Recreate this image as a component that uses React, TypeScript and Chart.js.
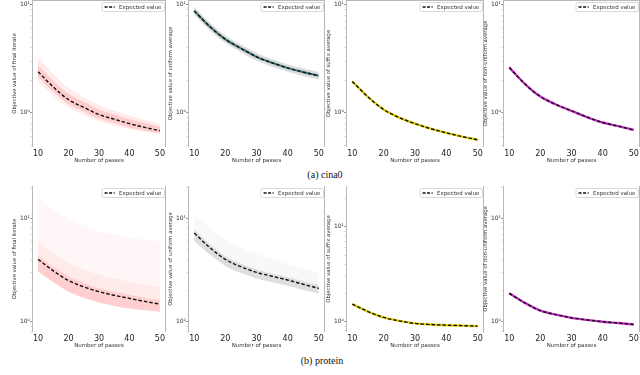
import React, { useEffect, useRef } from 'react';
import { Chart, registerables } from 'chart.js';
Chart.register(...registerables);

const FONT = '"DejaVu Sans", sans-serif';

// Number of passes
const passes = [10, 15, 20, 25, 30, 35, 40, 45, 50];
const xTickValues = [10, 20, 30, 40, 50];
const yTickValues = [0.4, 0.5, 0.6, 0.7, 0.8, 0.9, 1, 2, 3, 4, 5, 6, 7, 8, 9, 10, 20];

// (a) cina0
const cinaFinalMean = [2.4, 1.73, 1.32, 1.12, 0.96, 0.87, 0.79, 0.73, 0.68];
const cinaFinalOuterHi = [3.3, 2.3, 1.7, 1.4, 1.18, 1.05, 0.94, 0.86, 0.79];
const cinaFinalOuterLo = [1.95, 1.43, 1.11, 0.95, 0.83, 0.76, 0.7, 0.66, 0.63];
const cinaFinalInnerHi = [2.75, 1.97, 1.5, 1.26, 1.07, 0.96, 0.87, 0.8, 0.74];
const cinaFinalInnerLo = [2.15, 1.56, 1.2, 1.02, 0.88, 0.8, 0.73, 0.68, 0.645];

const cinaUniformMean = [8.8, 6.3, 4.8, 3.95, 3.3, 2.9, 2.6, 2.38, 2.2];
const cinaUniformHi = [9.6, 6.85, 5.2, 4.28, 3.58, 3.14, 2.82, 2.58, 2.38];
const cinaUniformLo = [8.1, 5.8, 4.42, 3.64, 3.04, 2.67, 2.4, 2.19, 2.03];

const cinaSuffixMean = [1.95, 1.4, 1.07, 0.9, 0.79, 0.71, 0.65, 0.6, 0.56];
const cinaNonUniformMean = [2.63, 1.85, 1.41, 1.19, 1.04, 0.91, 0.81, 0.75, 0.69];

// (b) protein
const protFinalMean = [4.0, 3.1, 2.5, 2.17, 1.95, 1.8, 1.68, 1.57, 1.48];
const protFinalFaintHi = [16, 12, 10, 8.5, 7.5, 7, 6.5, 6.2, 6];
const protFinalMidHi = [6, 4.6, 3.7, 3.2, 2.85, 2.6, 2.45, 2.3, 2.15];
const protFinalDenseHi = [4.4, 3.4, 2.75, 2.37, 2.12, 1.95, 1.82, 1.7, 1.62];
const protFinalDenseLo = [3.05, 2.4, 1.95, 1.7, 1.53, 1.42, 1.34, 1.29, 1.25];

const protUniformMean = [7.2, 5.2, 4.0, 3.4, 3.0, 2.75, 2.53, 2.3, 2.1];
const protUniformFaintHi = [11, 8, 6.2, 5.2, 4.5, 4.0, 3.6, 3.3, 3.0];
const protUniformDenseHi = [7.8, 5.6, 4.3, 3.65, 3.2, 2.93, 2.7, 2.46, 2.26];
const protUniformDenseLo = [6.0, 4.45, 3.45, 2.95, 2.62, 2.4, 2.22, 2.03, 1.88];

const protSuffixMean = [1.53, 1.28, 1.11, 1.02, 0.96, 0.935, 0.92, 0.91, 0.9];
const protNonUniformMean = [1.88, 1.52, 1.28, 1.17, 1.09, 1.04, 1.0, 0.97, 0.94];

type Band = { hi: number[]; lo: number[]; color: string };
type PanelDef = {
  left: number; top: number; right: number; bottom: number;
  yMin: number; yMax: number; yTitle: string;
  mean: number[]; bands: Band[]; runColor?: string; runWidth?: number; topSpine?: boolean;
};

const RED = (a: number) => `rgba(255,40,40,${a})`;
const GRAY = (a: number) => `rgba(120,120,120,${a})`;

const panels: PanelDef[] = [
  { left: 32, top: 0, right: 166, bottom: 147, yMin: 0.48, yMax: 11.1, yTitle: 'Objective value of final iterate',
    mean: cinaFinalMean, topSpine: true,
    bands: [
      { hi: cinaFinalOuterHi, lo: cinaFinalOuterLo, color: RED(0.09) },
      { hi: cinaFinalInnerHi, lo: cinaFinalInnerLo, color: RED(0.16) },
    ] },
  { left: 188, top: 0, right: 325, bottom: 147, yMin: 0.48, yMax: 11.1, yTitle: 'Objective value of uniform average',
    mean: cinaUniformMean, topSpine: true, runColor: '#4a8686', runWidth: 2.2,
    bands: [{ hi: cinaUniformHi, lo: cinaUniformLo, color: GRAY(0.25) }] },
  { left: 346, top: 0, right: 484, bottom: 147, yMin: 0.48, yMax: 11.1, yTitle: 'Objective value of suffix average',
    mean: cinaSuffixMean, topSpine: true, runColor: '#e6d400', bands: [] },
  { left: 503, top: 0, right: 640, bottom: 147, yMin: 0.48, yMax: 11.1, yTitle: 'Objective value of non-uniform average',
    mean: cinaNonUniformMean, topSpine: true, runColor: '#d030d0', bands: [] },
  { left: 32, top: 186, right: 166, bottom: 332, yMin: 0.795, yMax: 20.5, yTitle: 'Objective value of final iterate',
    mean: protFinalMean,
    bands: [
      { hi: protFinalFaintHi, lo: protFinalDenseLo, color: RED(0.04) },
      { hi: protFinalMidHi, lo: protFinalDenseLo, color: RED(0.06) },
      { hi: protFinalDenseHi, lo: protFinalDenseLo, color: RED(0.14) },
    ] },
  { left: 188, top: 186, right: 325, bottom: 332, yMin: 0.795, yMax: 20.5, yTitle: 'Objective value of uniform average',
    mean: protUniformMean,
    bands: [
      { hi: protUniformFaintHi, lo: protUniformDenseLo, color: GRAY(0.05) },
      { hi: protUniformDenseHi, lo: protUniformDenseLo, color: GRAY(0.2) },
    ] },
  { left: 346, top: 186, right: 484, bottom: 332, yMin: 0.78, yMax: 26.8, yTitle: 'Objective value of suffix average',
    mean: protSuffixMean, runColor: '#e6d400', bands: [] },
  { left: 503, top: 186, right: 640, bottom: 332, yMin: 0.795, yMax: 20.5, yTitle: 'Objective value of non-uniform average',
    mean: protNonUniformMean, runColor: '#d030d0', bands: [] },
];

const pts = (ys: number[]) => ys.map((y, i) => ({ x: passes[i], y }));

const WY = 21;
const HX = 17;

function makePlugin(p: PanelDef) {
  return {
    id: 'frameAndLegend',
    afterDatasetsDraw(chart: any) {
      const { ctx, chartArea: a } = chart;
      ctx.save();
      ctx.strokeStyle = '#b8b8b8';
      ctx.lineWidth = 1;
      ctx.beginPath();
      ctx.moveTo(a.left + 0.5, a.top);
      ctx.lineTo(a.left + 0.5, a.bottom);
      ctx.moveTo(a.right - 0.5, a.top);
      ctx.lineTo(a.right - 0.5, a.bottom);
      if (p.topSpine) {
        ctx.moveTo(a.left, a.top + 0.5);
        ctx.lineTo(a.right, a.top + 0.5);
      }
      ctx.stroke();
      // legend
      ctx.font = `5.5px ${FONT}`;
      const text = 'Expected value';
      const tw = ctx.measureText(text).width;
      const w = tw + 20;
      const h = 9;
      const x = a.right - w - 1.5;
      const y = a.top + 2.5;
      ctx.fillStyle = 'rgba(255,255,255,0.9)';
      ctx.strokeStyle = '#cfcfcf';
      ctx.lineWidth = 0.8;
      ctx.beginPath();
      ctx.roundRect(x, y, w, h, 1.5);
      ctx.fill();
      ctx.stroke();
      ctx.strokeStyle = '#111';
      ctx.lineWidth = 1.3;
      ctx.setLineDash([3, 1.5]);
      ctx.beginPath();
      ctx.moveTo(x + 2.5, y + h / 2);
      ctx.lineTo(x + 12.5, y + h / 2);
      ctx.stroke();
      ctx.setLineDash([]);
      ctx.fillStyle = '#333';
      ctx.textBaseline = 'middle';
      ctx.textAlign = 'left';
      ctx.fillText(text, x + 17, y + h / 2 + 0.5);
      ctx.restore();
    },
  };
}

function Panel({ p }: { p: PanelDef }) {
  const ref = useRef<HTMLCanvasElement>(null);
  const cl = Math.round(p.left - WY);
  const ct = Math.round(p.top);
  const cw = Math.round(p.right - cl);
  const ch = Math.round(p.bottom - p.top + HX);
  useEffect(() => {
    const datasets: any[] = [];
    const common = { pointRadius: 0, cubicInterpolationMode: 'monotone' };
    p.bands.forEach((b) => {
      datasets.push({ ...common, data: pts(b.hi), borderColor: 'rgba(0,0,0,0)', borderWidth: 0, fill: false });
      datasets.push({ ...common, data: pts(b.lo), borderColor: 'rgba(0,0,0,0)', borderWidth: 0, fill: '-1', backgroundColor: b.color });
    });
    if (p.runColor) {
      datasets.push({ ...common, data: pts(p.mean), borderColor: p.runColor, borderWidth: p.runWidth ?? 2.4, fill: false });
    }
    datasets.push({ ...common, data: pts(p.mean), borderColor: '#111', borderWidth: 1.4, borderDash: [3.5, 2], fill: false });
    // later datasets must be drawn on top: lower order = drawn later
    datasets.forEach((d, i) => { d.order = datasets.length - i; });

    const chart = new Chart(ref.current!, {
      type: 'line',
      data: { datasets },
      plugins: [makePlugin(p)],
      options: {
        animation: false,
        responsive: false,
        devicePixelRatio: 1,
        layout: { padding: 0, autoPadding: false },
        plugins: { legend: { display: false }, tooltip: { enabled: false } },
        scales: {
          x: {
            type: 'linear', min: 8, max: 52,
            grid: { display: false, drawTicks: false, tickLength: 0 },
            border: { display: false },
            ticks: { font: { size: 8, family: FONT }, color: '#222', padding: 2, maxRotation: 0, autoSkip: false },
            title: { display: true, text: 'Number of passes', font: { size: 5.5, family: FONT }, color: '#333', padding: { top: 0, bottom: 0 } },
            afterBuildTicks: (s: any) => { s.ticks = xTickValues.map((v) => ({ value: v })); },
            afterFit: (s: any) => { s.height = HX; s.paddingLeft = 0; s.paddingRight = 0; },
          },
          y: {
            type: 'logarithmic', min: p.yMin, max: p.yMax,
            grid: {
              display: true, drawOnChartArea: false, drawTicks: true, tickLength: 2,
              color: (c: any) => (c.tick && (c.tick.value === 1 || c.tick.value === 10) ? '#999' : '#e0e0e0'),
            },
            border: { display: false },
            ticks: {
              font: { size: 6, family: FONT }, color: '#333', padding: 0, autoSkip: false,
              callback: (v: any) => (v === 1 ? '10⁰' : v === 10 ? '10¹' : ''),
            },
            title: { display: true, text: p.yTitle, font: { size: 5.3, family: FONT }, color: '#333', padding: { top: 0, bottom: 0 } },
            afterBuildTicks: (s: any) => {
              s.ticks = yTickValues.filter((v) => v >= p.yMin && v <= p.yMax).map((v) => ({ value: v, major: v === 1 || v === 10 }));
            },
            afterFit: (s: any) => { s.width = WY; s.paddingTop = 0; s.paddingBottom = 0; },
          },
        },
      } as any,
    });
    return () => chart.destroy();
  }, []);
  return (
    <canvas
      ref={ref}
      width={cw}
      height={ch}
      style={{ position: 'absolute', left: cl, top: ct, width: cw, height: ch }}
    />
  );
}

const captionStyle: React.CSSProperties = {
  position: 'absolute',
  transform: 'translateX(-50%)',
  fontFamily: '"Liberation Serif", "Times New Roman", serif',
  fontSize: 10,
  lineHeight: '12px',
  color: '#111',
  whiteSpace: 'nowrap',
};

export default function App() {
  return (
    <div style={{ position: 'absolute', left: 0, top: 0, width: 640, height: 375, background: '#fff', overflow: 'hidden' }}>
      {panels.map((p, i) => (
        <Panel key={i} p={p} />
      ))}
      <div style={{ ...captionStyle, left: 325, top: 169 }}>(a) cina0</div>
      <div style={{ ...captionStyle, left: 322, top: 355 }}>(b) protein</div>
    </div>
  );
}
